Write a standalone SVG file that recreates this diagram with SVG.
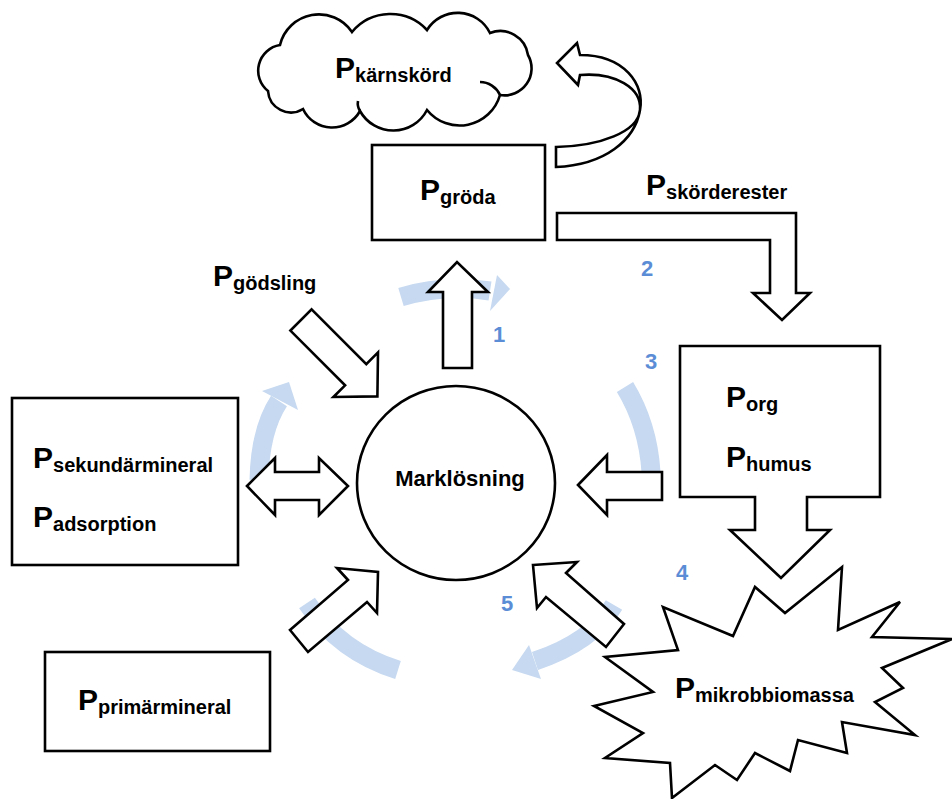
<svg xmlns="http://www.w3.org/2000/svg" width="952" height="799" viewBox="0 0 952 799">
<style>
.sh{fill:#fff;stroke:#000;stroke-width:2.6;stroke-linejoin:miter}
.arc{fill:none;stroke:#c6d9f0;stroke-width:19}
.ah{fill:#c6d9f0}
.t{font-family:"Liberation Sans",Arial,sans-serif;font-weight:bold;fill:#000}
.P{font-size:30px}
.s{font-size:20px}
.n{font-family:"Liberation Sans",Arial,sans-serif;font-weight:bold;font-size:22px;fill:#5b8dd6}
</style>
<rect width="952" height="799" fill="#fff"/>
<g id="cycle">
<path class="arc" d="M401,297 Q445,284 490,291"/>
<polygon class="ah" points="497,275 510,289 490,311"/>
<path class="arc" d="M259,480 Q260,430 279,401"/>
<polygon class="ah" points="262,391 289,382 298,410"/>
<path class="arc" d="M625,387 Q648,425 651,472"/>
<path class="arc" d="M614,605 Q592,642 535,661"/>
<polygon class="ah" points="529,645 541,679 512,670"/>
<path class="arc" d="M307,603 Q340,652 398,670"/>
</g>
<g id="connectors">
<path class="sh" d="M556,147 C600,146 638,132 640,110 C642,88 615,72 580,75 L578,85 L557,63 L577,43 L580,55 C625,55 645,85 640,110 C635,140 605,165 556,167 Z"/>
<polygon class="sh" points="557,213 796,213 796,293 810,293 782,320 753,293 770,293 770,240 557,240"/>
<polygon class="sh" points="443,368 443,292 428,292 457,262 488,292 472,292 472,368"/>
<polygon class="sh" points="311.6,309.4 366.3,364.1 378,352.4 377.4,396.4 333.4,397 345.1,385.3 290.4,330.6"/>
<polygon class="sh" points="247,486 275,458 275,472 319,472 319,458 348,486 319,515 319,500 275,500 275,515"/>
<polygon class="sh" points="578,485 607,455 607,472 662,472 662,500 607,500 607,515"/>
<polygon class="sh" points="290,630 348,580 337,568 378,572 377,613 367,602 308,652"/>
<polygon class="sh" points="533,565 577,562 566,573 624,624 606,647 546,597 537,608"/>
</g>
<g id="karnskord">
<path class="sh" d="M280,45 A40,40 0 0 1 352,32 A50,50 0 0 1 427,30 A36,36 0 0 1 490,33 A28,28 0 0 1 528,55 A27,27 0 0 1 500,95 A42,42 0 0 1 427,110 A38,38 0 0 1 360,111 A32,32 0 0 1 303,109 A23,23 0 0 1 268,91 A26,26 0 0 1 280,45 Z"/>
<path d="M480,82 A22,22 0 0 1 500,95" fill="none" stroke="#000" stroke-width="2.6"/>
<path d="M358,101 A14,14 0 0 0 360,111" fill="none" stroke="#000" stroke-width="2.6"/>
<text class="t" x="335" y="78"><tspan class="P">P</tspan><tspan class="s" dy="4">kärnskörd</tspan></text>
</g>
<g id="groda">
<rect class="sh" x="372" y="145" width="173" height="95"/>
<text class="t" x="420" y="200"><tspan class="P">P</tspan><tspan class="s" dy="4">gröda</tspan></text>
</g>
<g id="skorderester">
<text class="t" x="646" y="195"><tspan class="P">P</tspan><tspan class="s" dy="4">skörderester</tspan></text>
</g>
<g id="godsling">
<text class="t" x="213" y="286"><tspan class="P">P</tspan><tspan class="s" dy="4">gödsling</tspan></text>
</g>
<g id="marklosning">
<ellipse class="sh" cx="456" cy="483" rx="99" ry="97" stroke-width="2.2"/>
<text class="t" x="460" y="486" font-size="22" text-anchor="middle">Marklösning</text>
</g>
<g id="org">
<path class="sh" d="M680,346 H880 V497 H807 V530 H830 L781,578 L730,530 H755 V497 H680 Z"/>
<text class="t" x="726" y="407"><tspan class="P">P</tspan><tspan class="s" dy="4">org</tspan></text>
<text class="t" x="726" y="467"><tspan class="P">P</tspan><tspan class="s" dy="4">humus</tspan></text>
</g>
<g id="sekundar">
<rect class="sh" x="12" y="398" width="226" height="167"/>
<text class="t" x="33" y="468"><tspan class="P">P</tspan><tspan class="s" dy="4">sekundärmineral</tspan></text>
<text class="t" x="33" y="527"><tspan class="P">P</tspan><tspan class="s" dy="4">adsorption</tspan></text>
</g>
<g id="primar">
<rect class="sh" x="45" y="652" width="225" height="99"/>
<text class="t" x="78" y="710"><tspan class="P">P</tspan><tspan class="s" dy="4">primärmineral</tspan></text>
</g>
<g id="mikrob">
<polygon class="sh" points="594,706 653,692 605,657 678,650 663,607 733,636 755,587 785,613 842,567 838,630 900,602 872,637 952,639 882,668 903,688 875,702 915,735 842,722 847,753 798,740 790,771 755,753 737,780 715,765 672,798 670,763 605,758 643,733"/>
<text class="t" x="675" y="698"><tspan class="P">P</tspan><tspan class="s" dy="4">mikrobbiomassa</tspan></text>
</g>
<g id="labels">
<text class="n" x="493" y="342">1</text>
<text class="n" x="641" y="276">2</text>
<text class="n" x="645" y="369">3</text>
<text class="n" x="676" y="580">4</text>
<text class="n" x="501" y="611">5</text>
</g>
</svg>
